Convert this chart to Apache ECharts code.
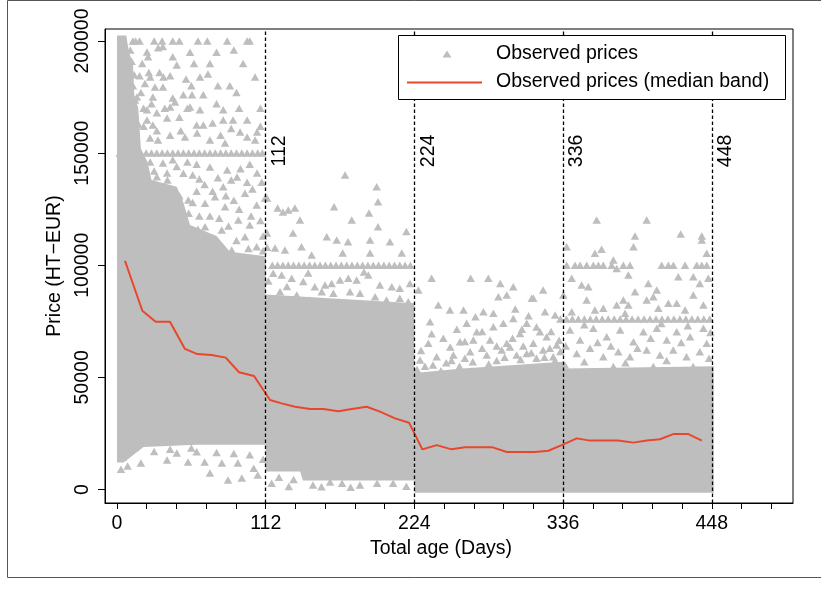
<!DOCTYPE html>
<html>
<head>
<meta charset="utf-8">
<script src="https://cdn.jsdelivr.net/npm/echarts@6/dist/echarts.min.js"></script>
<style>html,body{margin:0;padding:0;background:#fff}#c{width:821px;height:589px}</style>
</head>
<body>
<div id="c"></div>
<script>
// ---------- data ----------
const xTickLabels = [0, 112, 224, 336, 448];
const xTickMarks = [0, 22.4, 44.8, 67.2, 89.6, 112, 134.4, 156.8, 179.2, 201.6, 224, 246.4, 268.8, 291.2, 313.6, 336, 358.4, 380.8, 403.2, 425.6, 448, 470.4, 492.8];
const yTicks = [0, 50000, 100000, 150000, 200000];
const vLineDays = [112, 224, 336, 448];

// median band line
const medianDays = [6, 19.1, 29.1, 39.9, 51.2, 60.5, 71.3, 81.9, 91.9, 103.2, 115.3, 124, 134.1, 145.4, 155.4, 166.7, 176.8, 188.1, 198.1, 209.4, 220, 230, 240.8, 252.1, 262.1, 272.2, 283, 293.6, 304.9, 314.9, 324.9, 335, 346.3, 356.3, 367.6, 377.6, 389, 399, 409, 419, 430.4, 440.5];
const medianPrice = [102000, 79700, 74800, 74800, 62700, 60400, 60000, 58800, 52300, 50600, 39900, 38400, 36900, 35900, 35900, 34900, 35900, 36900, 34700, 31700, 29800, 17900, 19800, 17900, 18800, 18800, 18800, 16700, 16700, 16700, 17300, 19800, 22800, 21800, 21800, 21800, 20900, 21800, 22400, 24700, 24700, 21800];

// outlines of the solid masses of overlapping observations (age, price)
const denseMass1 = [[0,202500],[7,202500],[9,195000],[12,190000],[13,176000],[16,170000],[18,152000],[23,146000],[26,138000],[45,135000],[50,128000],[55,118000],[75,113000],[85,106000],[112,104000],[112,20000],[60,20000],[20,19000],[5,12000],[0,12000]];
const denseMass2 = [[112,87000],[224,83000],[224,4000],[140,4000],[138,8000],[112,8000]];
const denseMass3 = [[224,52000],[260,54000],[336,57000],[336,-1500],[224,-1500]];
const denseMass4 = [[336,54000],[449.5,55000],[449.5,-1500],[336,-1500]];

// individually visible observations (age, price)
const obsSeg1 = [[12,200000],[14,200000],[17,200000],[28,200000],[34,200000],[42,200000],[47,200000],[61,200000],[68,200000],[83,200000],[98,200000],[100,200000],
[31,197000],[34.5,197500],[22.6,195100],[23.4,193000],[42,193000],[45,189300],[13,185000],[17,184500],[25,184000],[35,184000],[40,184500],[62.5,184000],[68.5,185300],[104,184000],[21,181000],[28.6,179500],[34.6,179500],[56,180000],[76,180000],[85,180000],
[13.6,173700],[27,175000],[42,174600],[50,176000],[56.5,176000],[43.7,172800],[22.6,169300],[40,170600],[55,170600],[62.5,169300],[80,169300],[27,162500],[37.7,165700],[72,163400],[80,164800],[87.4,164800],[98,164800],[60,162500],[65,162500],[22.6,164800],
[24.9,156700],[30.9,155800],[40,158000],[51.2,157200],[60.3,159000],[70,155800],[81.4,154500],[92.7,159400],[104,155800],[98,157200],[105.5,159400],
[10,196000],[11,191000],[12,180000],[13,168000],[15,175000],[16,163000],[19,190000],[18,177000],[20,170000],[20,162000],[14,158000],[24,186000],[26,172000],[30,168000],[32,186000],[30,160000],[36,170000],[47,166000],[52,183000],[48,160000],[58,190000],[53,170000],[65,176000],[70,190000],[75,172000],[90,177000],[92,170000],[78,158000],[86,161000],[108,170000],[108,162000],[95,190000],[88,196000],[75,195000],[55,195000],
[2,150000],[6,150000],[10,150000],[14,150000],[18,150000],[22,150000],[26,150000],[30,150000],[34,150000],[38,150000],[42,150000],[46,150000],[50,150000],[54,150000],[58,150000],[62,150000],[66,150000],[70,150000],[74,150000],[78,150000],[82,150000],[86,150000],[90,150000],[94,150000],[98,150000],[102,150000],[106,150000],[109.5,150000],
[34.6,145600],[37.7,141100],[57,140200],[70,143800],[83,142500],[90.4,139300],[105.5,141100],[28,142000],[45,144000],[62,138500],[76,139000],[98,137000],
[25,146000],[30,139500],[38,138000],[42,147000],[50,141000],[53,146000],[60,145000],[66,136000],[72,133000],[80,135000],[86,138000],[93,143000],[100,145000],[102,134000],[109,137000],[57,128000],[62,122000],[77,121000],[82,131000],[92,125000],[101,122000],[108,120000],[61,116000],[90,111000],[99,107500],[110,106500],[67,112000],[79,108500],[47,131000],[51,116000],
[53.7,129100],[66.3,127600],[73.8,130600],[81.4,126100],[96.4,132100],[105.2,126900],[91.4,120200],[78.9,115700],[66.3,117200],[96.4,112700],[105.2,108300],[86.4,106800],[73.8,108300],[58.8,111300],[54,123200],[60,133000],[88,129000],[100,118000],[110,113000],[70,122000],[84,117500],[111.6,130000],
[4.5,14500],[18,11800],[37.7,13200],[45,16300],[53.5,12300],[70,7400],[79,11800],[83.6,4200],[94,5100],[106,6500],[91,11800],[66,12300],[28,17000],[60,16800],[75,16500],[100,15500],[110,13500],[103,9500],[88,16000],[10,17500],[40,18000],[56,18500],[3,9000],[8,10500]];

const obsSeg2 = [[171.8,140200],[195.6,135000],[196.6,128300],[163.5,126100],[121,125500],[125,123700],[129,124600],[134,125500],[137.8,120200],[176.8,120200],[189.8,123300],[196.6,117200],[132.6,114400],[158,112700],[165.5,111300],[174,110500],[190.6,111300],[205.6,110500],[218,115000],[139,108300],[119,107700],[126.5,106800],[146.6,104600],[170,105500],[190.6,105500],[214.5,105500],[113,114400],[113,108000],[113,130000],
[117,100000],[121,100000],[125,100000],[129,100000],[133,100000],[137,100000],[141,100000],[145,100000],[149,100000],[153,100000],[157,100000],[161,100000],[165,100000],[169,100000],[173,100000],[177,100000],[181,100000],[185,100000],[189,100000],[193,100000],[197,100000],[201,100000],[205,100000],[209,100000],[213,100000],[217,100000],[221,100000],
[117.7,96400],[124,95600],[131.6,94200],[140.3,92700],[149,90400],[156.7,91200],[161.7,91900],[168,93400],[174.2,94200],[180.5,93400],[189.3,95600],[198,91200],[207,90400],[213,89700],[220.7,91900],[122.8,88200],[135.4,86700],[145.4,84500],[154.2,88200],[163,87500],[175.5,88200],[183,87500],[194.4,86000],[203,84500],[213,85300],[219.4,83700],[114,93000],[128,90500],[144,96500],[186,97000],
[116.5,2800],[129.4,1300],[122,5500],[133,4500],[147.6,2000],[160.5,3300],[169.5,2800],[183,2000],[195.9,2800],[208,2800],[218,1500],[154,1200],[176,1000]];

const obsSeg3 = [[242,82300],[235.8,74800],[250.8,80000],[261,80000],[276,79300],[283.5,78600],[287.3,86000],[293.6,86700],[312.4,85300],[322.4,79300],[330,77800],[298.5,76300],[308.6,74100],[318.6,70400],[263.4,74100],[271,70400],[283.5,72600],[291,74100],[234.5,65200],[245.8,67400],[258.4,65900],[268.4,66700],[281,66700],[293.6,65200],[303.6,69600],[313.6,65200],[323.6,68100],[331.2,64400],[228.3,57700],[240.8,59200],[253.4,60000],[266,61400],[278.5,60000],[289.8,62200],[301,60000],[308.6,60700],[321,62200],[328.6,59200],
[237,94200],[266.4,94200],[279.7,94200],[288.7,91900],[298.5,90400],[321,89000],[313.6,85300],[227,89000],
[232,55000],[248,56500],[262,58500],[275,63000],[286,57500],[296,63500],[306,64000],[316,58500],[326,63000],[334,61500],[270,77000],[300,80500],[256,71500],[310,77500],
[226,53500],[238,55500],[244,53000],[252,57500],[258,55000],[268,57000],[280,56000],[292,59000],[304,58000],[312,61000],[322,59000],[330,57500],
[229,62000],[237,69500],[251,63500],[262,66000],[275,70500],[286,64000],[298,67500],[305,71500],[316,72500],[327,70500],[333,66500]];

const obsSeg4 = [[361.3,120200],[399,120200],[390.2,113000],[424.6,113900],[440.5,113000],[440.5,111300],[338.7,108300],[389,108300],[360,105300],[365,107100],[444.2,105300],
[338.7,100000],[345,100000],[348.8,100000],[353.8,100000],[358.8,100000],[362.6,100000],[366.3,100000],[372.6,100000],[381.4,100000],[386.4,100000],[410.3,100000],[415.3,100000],[419.1,100000],[427.9,100000],[436.7,100000],[440.5,100000],[444.2,100000],
[373.9,102300],[376.4,98600],[385.2,95600],[422.8,94900],[434.1,94900],[342.5,94200],[381.4,84500],[400.2,91900],[406.6,89000],[404,86000],[415.3,83000],[434.1,86700],[439,91900],[445.4,94200],[350,91200],[355,90400],
[336.2,86700],[353.8,84500],[366.3,80800],[376.4,82300],[385.2,82300],[390.2,88200],[399,84500],[407.8,80800],[421.6,83000],[441.7,82300],[342.5,79300],[360,80000],[382.7,78600],[427.9,80000],
[334,76000],[338.5,76000],[343,76000],[347.5,76000],[352,76000],[356.5,76000],[361,76000],[365.5,76000],[370,76000],[374.5,76000],[379,76000],[383.5,76000],[388,76000],[392.5,76000],[397,76000],[401.5,76000],[406,76000],[410.5,76000],[415,76000],[419.5,76000],[424,76000],[428.5,76000],[433,76000],[437.5,76000],[442,76000],[446.5,76000],
[341.2,71100],[348.8,66700],[358.8,71900],[368.9,68100],[379,71100],[389,65900],[396.5,70400],[406.6,71900],[414.1,66700],[421.6,70400],[431.7,68100],[441.7,71900],[444.2,65200],[346.3,60700],[356.3,63000],[366.3,59200],[377.6,61400],[386.4,59200],[399,62200],[409,60000],[419,62200],[429,59200],[439,61400],[337.4,55500],[373.9,54800],[404,54800],[434,54800],
[352,57000],[362,65500],[383,56500],[392,63000],[414,57500],[425,65500],[446,58500],[338,64000],[402,67500],[372,64000],[447,70000],[410,74000],[352,73500],[430,73000]];

// ---------- chart ----------
const FONT = '"Liberation Sans", Arial, Helvetica, sans-serif';
const GRAY = '#bebebe';
const RED = '#e8472b';
const FS = 19.5;
const densePolygons = [denseMass1, denseMass2, denseMass3, denseMass4];
const observed = [].concat(obsSeg1, obsSeg2, obsSeg3, obsSeg4);

const chart = echarts.init(document.getElementById('c'), null, {renderer: 'canvas'});
chart.setOption({
  animation: false,
  backgroundColor: '#fff',
  grid: {left: 105, top: 29, width: 688, height: 474, show: true, borderColor: '#000', borderWidth: 1, backgroundColor: 'transparent'},
  xAxis: {
    type: 'value', min: -9.04, max: 509.2,
    axisLine: {show: true, onZero: false, lineStyle: {color: '#000', width: 1}},
    axisTick: {show: true, customValues: xTickMarks, length: 6, lineStyle: {color: '#000', width: 1}},
    axisLabel: {customValues: xTickLabels, fontSize: FS, fontFamily: FONT, color: '#000', margin: 11, formatter: v => String(v)},
    splitLine: {show: false},
    name: 'Total age (Days)', nameLocation: 'middle', nameGap: 33,
    nameTextStyle: {fontSize: FS, fontFamily: FONT, color: '#000', padding: [0, 16, 0, 0]}
  },
  yAxis: {
    type: 'value', min: -6020, max: 205350,
    axisLine: {show: true, onZero: false, lineStyle: {color: '#000', width: 1}},
    axisTick: {show: true, customValues: yTicks, length: 7, lineStyle: {color: '#000', width: 1}},
    axisLabel: {customValues: yTicks, rotate: 90, fontSize: FS, fontFamily: FONT, color: '#000', margin: 12, formatter: v => String(v)},
    splitLine: {show: false},
    name: 'Price (HT\u2212EUR)', nameLocation: 'middle', nameRotate: 90, nameGap: 32,
    nameTextStyle: {fontSize: FS, fontFamily: FONT, color: '#000'}
  },
  series: [
    {
      type: 'custom', name: 'Observed prices (dense)', silent: true, z: 1,
      data: densePolygons.map(p => p[0]),
      renderItem: (params, api) => ({
        type: 'polygon',
        shape: {points: densePolygons[params.dataIndex].map(pt => api.coord(pt))},
        style: {fill: GRAY, stroke: null}
      })
    },
    {
      type: 'scatter', name: 'Observed prices', z: 2, silent: true,
      symbol: 'triangle', symbolSize: [8.5, 7.5],
      itemStyle: {color: GRAY, opacity: 1},
      data: observed
    },
    {
      type: 'line', name: 'Observed prices (median band)', z: 4, silent: true,
      symbol: 'none', lineStyle: {color: RED, width: 2},
      data: medianDays.map((d, i) => [d, medianPrice[i]])
    },
    {
      type: 'scatter', name: 'age markers', z: 5, silent: true,
      symbolSize: 0,
      data: vLineDays.map(d => [d, 151000]),
      label: {show: true, position: 'inside', rotate: 90, offset: [0, 14], formatter: p => String(p.value[0]),
        fontSize: FS, fontFamily: FONT, color: '#000', opacity: 1},
      markLine: {
        silent: true, symbol: ['none', 'none'], label: {show: false},
        lineStyle: {type: [3.5, 2.5], color: '#000', width: 1.3},
        data: vLineDays.map(d => ({xAxis: d}))
      }
    }
  ],
  graphic: [
    {type: 'rect', z: 100, silent: true, shape: {x: 7.5, y: 0.5, width: 840, height: 577}, style: {fill: 'none', stroke: '#555', lineWidth: 1}},
    {type: 'rect', z: 100, silent: true, shape: {x: 398.5, y: 35.5, width: 387, height: 64}, style: {fill: '#fff', stroke: '#000', lineWidth: 1}},
    {type: 'polygon', z: 101, silent: true, shape: {points: [[447, 50.5], [451.5, 57.5], [442.5, 57.5]]}, style: {fill: GRAY}},
    {type: 'line', z: 101, silent: true, shape: {x1: 407, y1: 82.5, x2: 482, y2: 82.5}, style: {stroke: RED, lineWidth: 2}},
    {type: 'text', z: 101, silent: true, style: {text: 'Observed prices', x: 496, y: 54, fontSize: FS, fontFamily: FONT, fill: '#000', verticalAlign: 'middle'}},
    {type: 'text', z: 101, silent: true, style: {text: 'Observed prices (median band)', x: 496, y: 82, fontSize: FS, fontFamily: FONT, fill: '#000', verticalAlign: 'middle'}}
  ]
});
</script>
</body>
</html>
